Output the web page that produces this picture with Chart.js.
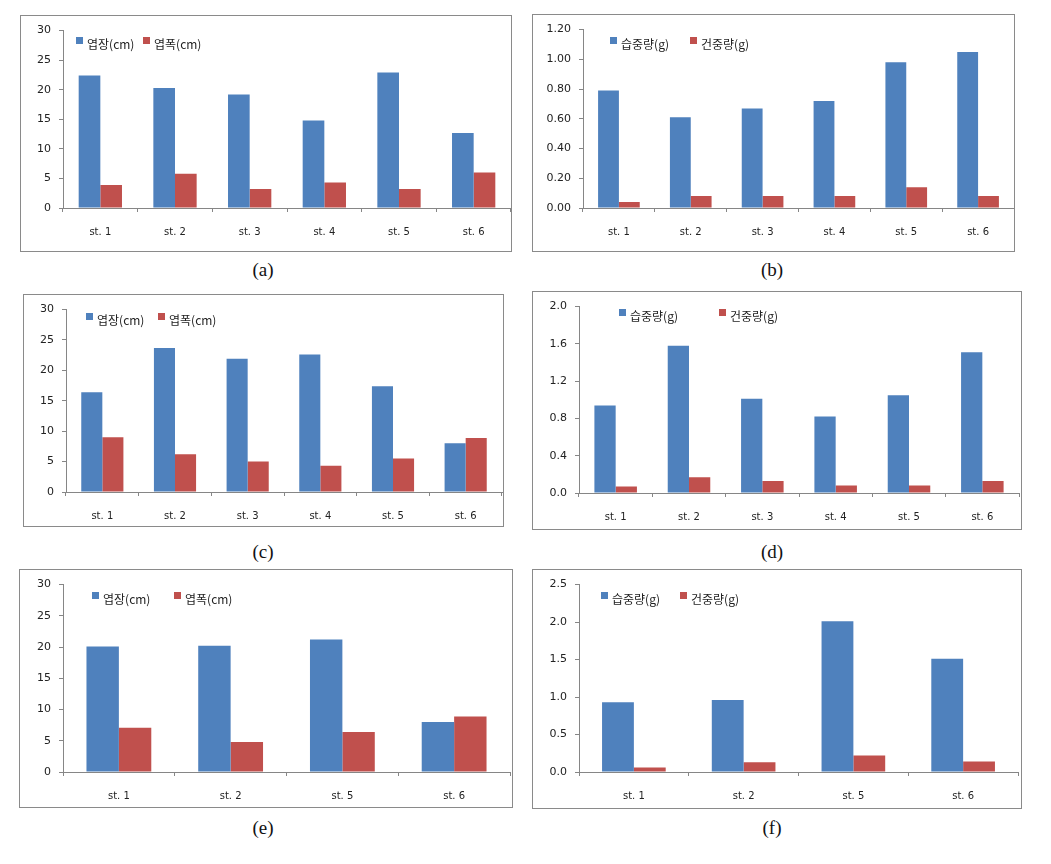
<!DOCTYPE html>
<html>
<head>
<meta charset="utf-8">
<script src="https://cdn.jsdelivr.net/npm/chart.js@4.4.0/dist/chart.umd.min.js"></script>
<style>
  body { margin: 0; background: #fff; width: 1051px; height: 864px; position: relative; overflow: hidden; }
  .panel { position: absolute; box-sizing: border-box; border: 1px solid #8a8a8a; background: #fff; }
  .panel canvas { display: block; }
  .cap { position: absolute; transform: translate(-50%, -50%); font-family: "Liberation Serif", "DejaVu Serif", serif; font-size: 19px; color: #111; }
</style>
</head>
<body>
<script>
// categories
const categories6 = ['st. 1', 'st. 2', 'st. 3', 'st. 4', 'st. 5', 'st. 6'];
const categories4 = ['st. 1', 'st. 2', 'st. 5', 'st. 6'];

// series names
const nameLength = '엽장(cm)';
const nameWidth = '엽폭(cm)';
const nameWet = '습중량(g)';
const nameDry = '건중량(g)';

// (a)
const lengthA = [22.4, 20.3, 19.2, 14.8, 22.9, 12.7];
const widthA = [3.9, 5.8, 3.2, 4.3, 3.2, 6.0];
// (b)
const wetB = [0.79, 0.61, 0.67, 0.72, 0.98, 1.05];
const dryB = [0.04, 0.08, 0.08, 0.08, 0.14, 0.08];
// (c)
const lengthC = [16.4, 23.7, 21.9, 22.6, 17.4, 8.0];
const widthC = [9.0, 6.2, 5.0, 4.3, 5.5, 8.9];
// (d)
const wetD = [0.94, 1.58, 1.01, 0.82, 1.05, 1.51];
const dryD = [0.07, 0.17, 0.13, 0.08, 0.08, 0.13];
// (e)
const lengthE = [20.1, 20.2, 21.2, 8.0];
const widthE = [7.1, 4.8, 6.4, 8.9];
// (f)
const wetF = [0.93, 0.96, 2.01, 1.51];
const dryF = [0.06, 0.13, 0.22, 0.14];

// tick labels
const ticksCm = ['0', '5', '10', '15', '20', '25', '30'];
const ticksB = ['0.00', '0.20', '0.40', '0.60', '0.80', '1.00', '1.20'];
const ticksD = ['0.0', '0.4', '0.8', '1.2', '1.6', '2.0'];
const ticksF = ['0.0', '0.5', '1.0', '1.5', '2.0', '2.5'];

const captions = ['(a)', '(b)', '(c)', '(d)', '(e)', '(f)'];

const BLUE = '#4f81bd';
const RED = '#c0504d';
const AXIS = '#868686';

// page layout: box = border box, area = plot area, leg = [blueX, redX, boxTop], cap = caption centre
const panels = [
  { box: [20, 15, 512, 252], area: [63, 29, 511, 208], leg: [76, 143, 37], cap: [263, 270],
    labels: categories6, s1: [nameLength, lengthA], s2: [nameWidth, widthA], max: 30, step: 5, ticks: ticksCm },
  { box: [532, 14, 1015, 252], area: [583, 29, 1014, 208], leg: [610, 690, 37], cap: [772, 270],
    labels: categories6, s1: [nameWet, wetB], s2: [nameDry, dryB], max: 1.2, step: 0.2, ticks: ticksB },
  { box: [23, 294, 504, 527], area: [66, 306, 502, 492], leg: [86, 158, 313], cap: [263, 552],
    labels: categories6, s1: [nameLength, lengthC], s2: [nameWidth, widthC], max: 30, step: 5, ticks: ticksCm },
  { box: [532, 291, 1022, 530], area: [579, 302, 1019, 493], leg: [619, 719, 309], cap: [772, 552],
    labels: categories6, s1: [nameWet, wetD], s2: [nameDry, dryD], max: 2.0, step: 0.4, ticks: ticksD },
  { box: [19, 569, 513, 808], area: [63, 581, 510, 772], leg: [92, 174, 592], cap: [263, 828],
    labels: categories4, s1: [nameLength, lengthE], s2: [nameWidth, widthE], max: 30, step: 5, ticks: ticksCm },
  { box: [532, 569, 1022, 809], area: [579, 582, 1018, 772], leg: [601, 680, 592], cap: [772, 828],
    labels: categories4, s1: [nameWet, wetF], s2: [nameDry, dryF], max: 2.5, step: 0.5, ticks: ticksF },
];

// legend drawn inside the plot area, like the Excel original
const insideLegend = {
  id: 'insideLegend',
  afterDraw(chart, args, opts) {
    const ctx = chart.ctx;
    ctx.save();
    ctx.font = '12px "Noto Sans CJK KR"';
    ctx.textBaseline = 'middle';
    ctx.fillStyle = '#222';
    chart.data.datasets.forEach((ds, i) => {
      const x = opts.xs[i];
      ctx.fillStyle = ds.backgroundColor;
      ctx.fillRect(x, opts.top, 7, 7);
      ctx.fillStyle = '#222';
      ctx.fillText(ds.label, x + 11, opts.top + 7);
    });
    ctx.restore();
  }
};

panels.forEach((p, n) => {
  const [bl, bt, br, bb] = p.box;
  const div = document.createElement('div');
  div.className = 'panel';
  div.style.left = bl + 'px';
  div.style.top = bt + 'px';
  div.style.width = (br - bl) + 'px';
  div.style.height = (bb - bt) + 'px';
  const cw = br - bl - 2, chh = bb - bt - 2;
  const canvas = document.createElement('canvas');
  canvas.width = cw;
  canvas.height = chh;
  div.appendChild(canvas);
  document.body.appendChild(div);

  const ox = bl + 1, oy = bt + 1;
  const [al, at, ar, ab] = p.area;
  const yW = al - ox, xH = chh - (ab - oy);

  const cap = document.createElement('div');
  cap.className = 'cap';
  cap.style.left = p.cap[0] + 'px';
  cap.style.top = p.cap[1] + 'px';
  cap.textContent = captions[n];
  document.body.appendChild(cap);

  new Chart(canvas, {
    type: 'bar',
    data: {
      labels: p.labels,
      datasets: [
        { label: p.s1[0], data: p.s1[1], backgroundColor: BLUE },
        { label: p.s2[0], data: p.s2[1], backgroundColor: RED },
      ],
    },
    options: {
      responsive: false,
      animation: false,
      events: [],
      layout: { padding: { left: 0, top: at - oy, right: cw - (ar - ox), bottom: 0 } },
      datasets: { bar: { categoryPercentage: 0.58, barPercentage: 1.0, borderWidth: 0 } },
      plugins: {
        legend: { display: false },
        tooltip: { enabled: false },
        insideLegend: { xs: [p.leg[0] - ox, p.leg[1] - ox], top: p.leg[2] - oy },
      },
      scales: {
        x: {
          grid: { display: true, drawOnChartArea: false, drawTicks: true, tickLength: 4, color: AXIS },
          border: { display: true, color: AXIS },
          ticks: { color: '#222', font: { family: 'DejaVu Sans', size: 10 }, padding: 14, maxRotation: 0, autoSkip: false },
          afterFit(scale) { scale.height = xH; },
        },
        y: {
          min: 0,
          max: p.max,
          grid: { display: true, drawOnChartArea: false, drawTicks: true, tickLength: 4, color: AXIS },
          border: { display: true, color: AXIS },
          ticks: {
            stepSize: p.step,
            color: '#222',
            font: { family: 'DejaVu Sans', size: 11 },
            padding: 8,
            callback: (v) => p.ticks[Math.round(v / p.step)],
          },
          afterFit(scale) { scale.width = yW; },
        },
      },
    },
    plugins: [insideLegend],
  });
});
</script>
</body>
</html>
